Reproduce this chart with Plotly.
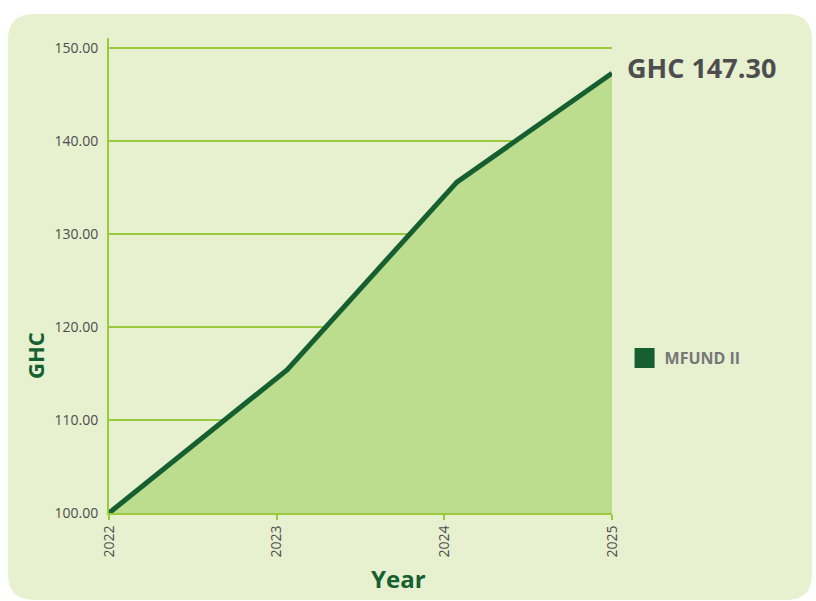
import plotly.graph_objects as go

# ---- data ----
dates = ["2022-01-01", "2023-01-24", "2024-01-29", "2025-01-01"]
values = [100.0, 115.4, 135.6, 147.3]
tick_dates = ["2022-01-01", "2023-01-01", "2024-01-01", "2025-01-01"]
tick_labels = ["2022", "2023", "2024", "2025"]
y_ticks = [100, 110, 120, 130, 140, 150]
series_name = "MFUND II"

W, H = 816, 601
L, R, T, B = 109, 204, 38, 88

DARK = "#155F30"
FILL = "#BCDC8E"
GRID = "#9CCA3E"
PANEL = "#E7F0CF"
TXT = "#4D4D4F"
FONT = "Open Sans, Noto Sans, sans-serif"

fig = go.Figure()
fig.add_trace(go.Scatter(
    x=dates, y=values, mode="lines", fill="tozeroy",
    fillcolor=FILL, line=dict(color=DARK, width=5),
    showlegend=False, hoverinfo="x+y"))
fig.add_trace(go.Scatter(
    x=[None], y=[None], mode="markers", name=series_name,
    marker=dict(symbol="square", size=16, color=DARK,
                line=dict(color=DARK, width=4))))

# rounded background panel in paper coords
pw, ph = W - L - R, H - T - B
def px(x):
    return (x - L) / pw
def py(y):
    return (H - B - y) / ph
x0, x1, y0, y1, r = 8, 812, 14, 600, 26
path = (f"M {px(x0+r)},{py(y0)} L {px(x1-r)},{py(y0)} "
        f"Q {px(x1)},{py(y0)} {px(x1)},{py(y0+r)} "
        f"L {px(x1)},{py(y1-r)} Q {px(x1)},{py(y1)} {px(x1-r)},{py(y1)} "
        f"L {px(x0+r)},{py(y1)} Q {px(x0)},{py(y1)} {px(x0)},{py(y1-r)} "
        f"L {px(x0)},{py(y0+r)} Q {px(x0)},{py(y0)} {px(x0+r)},{py(y0)} Z")
fig.add_shape(type="path", path=path, xref="paper", yref="paper",
              fillcolor=PANEL, line=dict(width=0), layer="below")

fig.add_annotation(x=dates[-1], y=values[-1], text=f"<b>GHC {values[-1]:.2f}</b>",
                   showarrow=False, xanchor="left", yanchor="middle",
                   xshift=13, yshift=6,
                   font=dict(family=FONT, size=27, color=TXT))
# axis titles
fig.add_annotation(x=px(398), y=py(578), xref="paper", yref="paper",
                   text="<b>Year</b>", showarrow=False,
                   xanchor="center", yanchor="middle",
                   font=dict(family=FONT, size=24, color=DARK))
fig.add_annotation(x=px(35), y=py(356), xref="paper", yref="paper",
                   text="<b>GHC</b>", showarrow=False, textangle=-90,
                   xanchor="center", yanchor="middle",
                   font=dict(family=FONT, size=22, color=DARK))

fig.update_layout(
    width=W, height=H,
    margin=dict(l=L, r=R, t=T, b=B),
    paper_bgcolor="white", plot_bgcolor="rgba(0,0,0,0)",
    font=dict(family=FONT, color=TXT),
    legend=dict(x=1.025, y=py(358), xanchor="left", yanchor="middle",
                bgcolor="rgba(0,0,0,0)",
                font=dict(family=FONT, size=16, color="#77777A", weight="bold"),
                itemwidth=30),
    xaxis=dict(
        type="date", range=[tick_dates[0], tick_dates[-1]],
        tickmode="array", tickvals=tick_dates, ticktext=tick_labels,
        tickangle=-90, ticks="outside", ticklen=5, tickwidth=2, tickcolor=GRID,
        tickfont=dict(size=14, color=TXT),
        showline=True, linecolor=GRID, linewidth=2,
        showgrid=False, zeroline=False,
    ),
    yaxis=dict(
        range=[100, 151.1], tickmode="array", tickvals=y_ticks,
        tickformat=".2f", tickfont=dict(size=14, color=TXT),
        showline=True, linecolor=GRID, linewidth=2,
        showgrid=True, gridcolor=GRID, gridwidth=2, zeroline=False,
        ticks="", ticklabelstandoff=6,
    ),
)

fig.write_html("out.html", config={"displayModeBar": False},
               post_script="document.body.style.margin='0px';")
